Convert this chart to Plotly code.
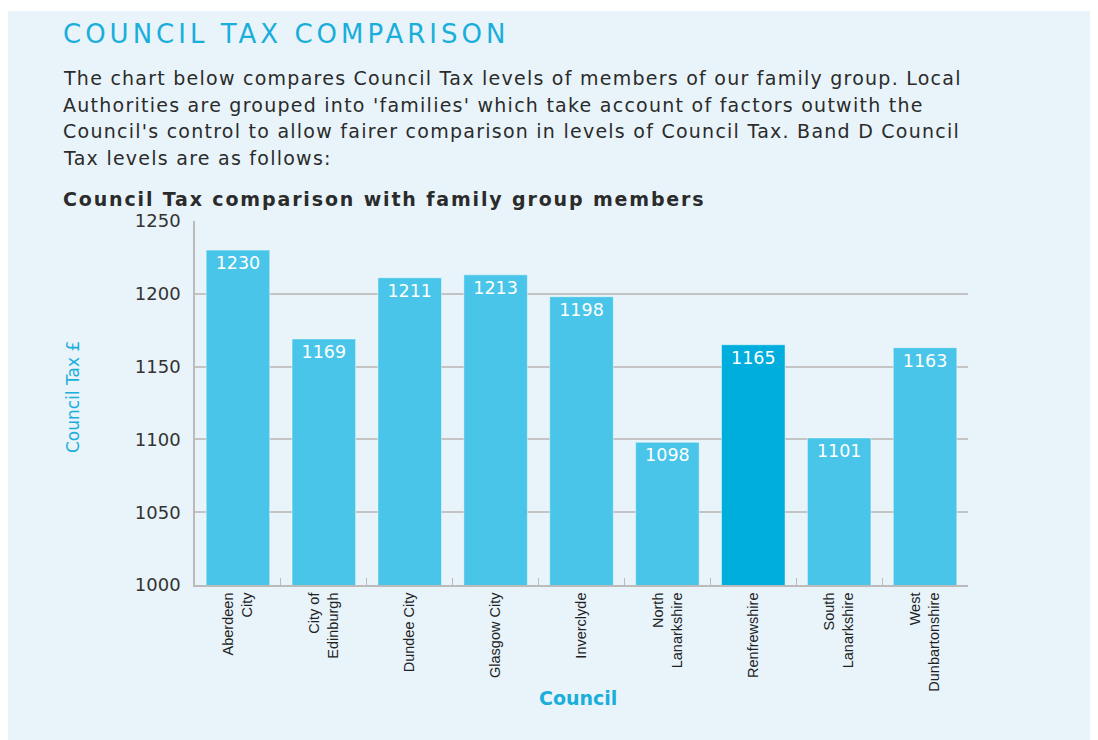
import plotly.graph_objects as go

councils = ["Aberdeen<br>City", "City of<br>Edinburgh", "Dundee City", "Glasgow City",
            "Inverclyde", "North<br>Lanarkshire", "Renfrewshire", "South<br>Lanarkshire",
            "West<br>Dunbartonshire"]
tax_values = [1230, 1169, 1211, 1213, 1198, 1098, 1165, 1101, 1163]
highlight = "Renfrewshire"
y_ticks = [1000, 1050, 1100, 1150, 1200, 1250]

OFF = 8                      # page body margin
W, H = 1098 - OFF, 740 - OFF
L, R, T, B = 195, 968, 221, 585   # plot area in screenshot pixels


def px(x):
    return (x - L) / (R - L)


def py(y):
    return (B - y) / (B - T)


def spaced(text, ls):
    return f'<span style="letter-spacing:{ls}px">{text}</span>'


BLUE = "#48C5E8"
DARK_BLUE = "#00AEDD"
TITLE_BLUE = "#1AAEDB"
BG = "#E8F4FA"
TXT = "#2B2B2B"
FONT = "DejaVu Sans"

colors = [DARK_BLUE if c == highlight else BLUE for c in councils]

fig = go.Figure()
fig.add_trace(go.Bar(
    x=councils, y=tax_values,
    marker=dict(color=colors, line=dict(color="rgba(255,255,255,0.45)", width=1)),
    width=0.74,
    text=[str(v) for v in tax_values],
    textposition="inside", insidetextanchor="end",
    textfont=dict(family=FONT, size=17.5, color="white"),
    cliponaxis=False,
))

fig.update_layout(
    width=W, height=H,
    margin=dict(l=L - OFF, r=W - (R - OFF), t=T - OFF, b=H - (B - OFF), pad=0),
    paper_bgcolor=BG, plot_bgcolor=BG,
    showlegend=False,
    xaxis=dict(
        tickangle=-90, tickfont=dict(family="Liberation Sans", size=14.5, color="#222222"),
        showline=True, linecolor="#BBBBBB", linewidth=1.5,
        ticks="inside", ticklen=7, tickcolor="#BBBBBB", tickson="boundaries",
        showgrid=False,
    ),
    yaxis=dict(
        range=[1000, 1250], tickvals=y_ticks,
        tickfont=dict(family=FONT, size=18, color="#333333"),
        showline=True, linecolor="#BBBBBB", linewidth=1.5,
        showgrid=True, gridcolor="#C4C4C4", gridwidth=1.5,
        ticks="", ticklabelstandoff=9,
        zeroline=False,
    ),
)

# white strip above the light blue panel
fig.add_shape(type="rect", xref="paper", yref="paper",
              x0=px(0), x1=px(1100), y0=py(11), y1=py(0),
              fillcolor="white", line=dict(width=0), layer="below")

ann = []
ann.append(dict(text=spaced("COUNCIL TAX COMPARISON", 4.0), x=px(61), y=py(34),
                xanchor="left", yanchor="middle",
                font=dict(family=FONT, size=26, color=TITLE_BLUE)))
body = ["The chart below compares Council Tax levels of members of our family group. Local",
        "Authorities are grouped into 'families' which take account of factors outwith the",
        "Council's control to allow fairer comparison in levels of Council Tax. Band D Council",
        "Tax levels are as follows:"]
for i, line in enumerate(body):
    ann.append(dict(text=spaced(line, 1.25), x=px(61), y=py(78 + 26.6 * i),
                    xanchor="left", yanchor="middle",
                    font=dict(family=FONT, size=19, color=TXT)))
ann.append(dict(text="<b>" + spaced("Council Tax comparison with family group members", 1.85) + "</b>",
                x=px(61), y=py(199), xanchor="left", yanchor="middle",
                font=dict(family=FONT, size=19, color=TXT)))
ann.append(dict(text="Council Tax £", x=px(73), y=py(397), xanchor="center", yanchor="middle",
                textangle=-90, font=dict(family=FONT, size=17, color=TITLE_BLUE)))
ann.append(dict(text="<b>Council</b>", x=px(578), y=py(698), xanchor="center", yanchor="middle",
                font=dict(family=FONT, size=19, color=TITLE_BLUE)))
for a in ann:
    a.update(xref="paper", yref="paper", showarrow=False)
fig.update_layout(annotations=ann)

fig.write_html("out.html")
